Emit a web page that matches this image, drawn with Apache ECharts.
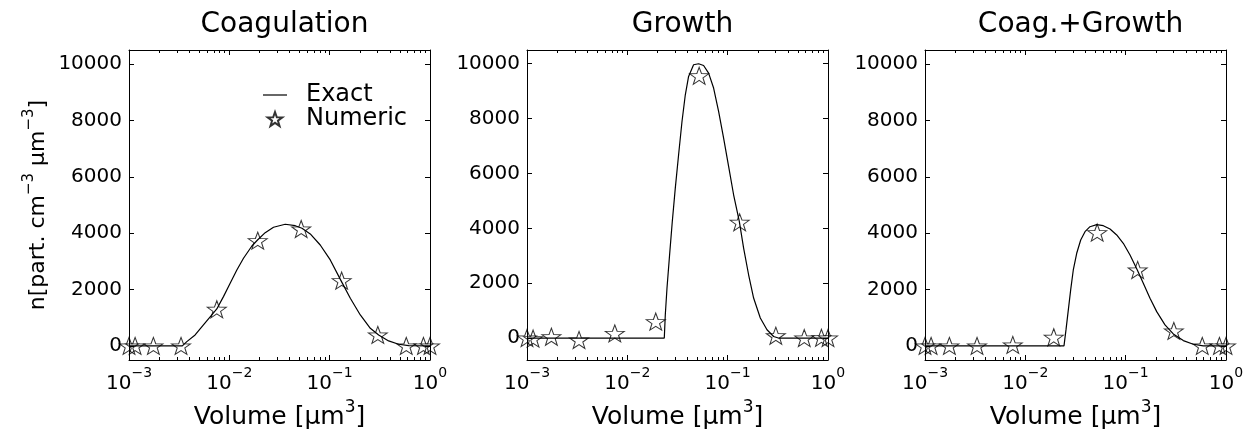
<!DOCTYPE html>
<html>
<head>
<meta charset="utf-8">
<script src="https://cdn.jsdelivr.net/npm/echarts@6.0.0/dist/echarts.min.js"></script>
<style>
  html, body { margin: 0; padding: 0; background: #fff; }
  #chart { width: 1258px; height: 437px; }
</style>
</head>
<body>
<div id="chart"></div>
<script>
// panel titles and axis ticks
const panelTitles = ['Coagulation', 'Growth', 'Coag.+Growth'];
const yTicks = [0, 2000, 4000, 6000, 8000, 10000];
const yMins = [-500, -800, -500];
const yMax = 10500;
const xDecades = [0.001, 0.01, 0.1, 1];

// numeric (star) points, same volumes in all panels
const numericX = [0.001, 0.00115, 0.00175, 0.0033, 0.0075, 0.0192, 0.052, 0.1317, 0.302, 0.58, 0.86, 1.0];
const coagNumeric = [0, 0, 0, 0, 1300, 3735, 4149, 2317, 390, 0, 0, 0];
const growthNumeric = [0, -20, 50, -70, 170, 600, 9560, 4220, 85, 0, 10, 0];
const bothNumeric = [0, 0, 0, 0, 35, 307, 4020, 2695, 532, 0, 0, 0];

// exact solutions
const coagExactX = [0.001, 0.0034, 0.00377, 0.00456, 0.00552, 0.00669, 0.0075, 0.00874, 0.01019, 0.01188,
  0.01384, 0.01678, 0.0191, 0.02277, 0.02756, 0.03605, 0.04538, 0.05297, 0.06405, 0.08054,
  0.1014, 0.1297, 0.1606, 0.202, 0.2542, 0.3077, 0.387, 0.487, 0.613, 1.0];
const coagExactY = [0, 0, 153, 390, 745, 1099, 1312, 1749, 2223, 2695,
  3110, 3546, 3759, 4018, 4209, 4316, 4266, 4173, 3972, 3581,
  3050, 2317, 1690, 1099, 626, 390, 177, 59, 12, 0];

const growthExactX = [0.001, 0.02335, 0.0239, 0.02485, 0.02638, 0.02806, 0.03006, 0.03243, 0.03506, 0.03783,
  0.04079, 0.04575, 0.05133, 0.05756, 0.06457, 0.07243, 0.08122, 0.0911, 0.1022, 0.1146,
  0.1306, 0.1442, 0.1617, 0.1814, 0.2115, 0.2466, 0.287, 0.32, 1.0];
const growthExactY = [0, 0, 849, 1822, 3036, 4250, 5467, 6681, 7895, 8868,
  9535, 9962, 10000, 9936, 9659, 9113, 8260, 7290, 6255, 5223,
  4250, 3280, 2307, 1458, 729, 303, 58, 0, 0];

const bothExactX = [0.001, 0.02428, 0.02542, 0.02682, 0.02831, 0.03006, 0.03251, 0.03563, 0.03933, 0.0441,
  0.05143, 0.05987, 0.06982, 0.08138, 0.0947, 0.1105, 0.1306, 0.1499, 0.1748, 0.2039,
  0.2466, 0.2984, 0.3754, 0.4721, 0.594, 1.0];
const bothExactY = [0, 0, 567, 1277, 1986, 2695, 3287, 3759, 4053, 4230,
  4301, 4266, 4149, 3936, 3642, 3227, 2695, 2223, 1691, 1216,
  745, 425, 188, 60, 0, 0];

const exactX = [coagExactX, growthExactX, bothExactX];
const exactY = [coagExactY, growthExactY, bothExactY];
const numericY = [coagNumeric, growthNumeric, bothNumeric];

const FONT = 'DejaVu Sans';
const gridLefts = [129, 527, 925];
const gridWidth = 301;

const zip = (xs, ys) => xs.map((x, i) => [x, ys[i]]);

// minor log ticks 2..9 in each decade
const xMinor = [];
for (let d = 0; d < xDecades.length - 1; d++) {
  for (let k = 2; k <= 9; k++) xMinor.push(+(xDecades[d] * k).toPrecision(3));
}

function starPath(inner) {
  const pts = [];
  for (let i = 0; i < 10; i++) {
    const r = i % 2 ? inner : 1;
    const a = Math.PI * (i / 5 - 0.5);
    pts.push((r * Math.cos(a)).toFixed(3) + ',' + (r * Math.sin(a)).toFixed(3));
  }
  return 'path://M' + pts.join(' L') + ' Z';
}
const STAR = starPath(0.4);
const LINE_ICON = 'path://M0,0 L24,0 L24,1.2 L0,1.2 Z';

const supStyle = (size, lift) => ({
  fontFamily: FONT, fontSize: size, color: '#000', verticalAlign: 'top', padding: [0, 0, lift, 0]
});

const grids = [], xAxes = [], yAxes = [], series = [], titles = [];

gridLefts.forEach((left, g) => {
  grids.push({ left: left, top: 50, width: gridWidth, height: 310 });
  titles.push({
    text: panelTitles[g],
    left: left + gridWidth / 2,
    top: 6,
    textAlign: 'center',
    textStyle: { fontFamily: FONT, fontSize: 28, fontWeight: 'normal', color: '#000' }
  });

  const baseX = {
    type: 'log', logBase: 10, gridIndex: g, min: 0.001, max: 1,
    axisLine: { show: false, onZero: false },
    splitLine: { show: false },
    axisLabel: { show: false },
    axisTick: { show: true, inside: true, length: 5, lineStyle: { color: '#000' }, customValues: xDecades }
  };
  xAxes.push(Object.assign({}, baseX, {
    position: 'bottom',
    axisLine: { show: true, onZero: false, lineStyle: { color: '#000', width: 1 } },
    axisLabel: {
      show: true, margin: 6, customValues: xDecades,
      formatter: v => '{b|10}{s|' + String(Math.round(Math.log10(v))).replace('-', '\u2212') + '}',
      rich: {
        b: { fontFamily: FONT, fontSize: 20, color: '#000', verticalAlign: 'bottom' },
        s: supStyle(14, 14)
      }
    },
    name: '{b|Volume [\u03bcm}{s|3}{b|]}',
    nameLocation: 'middle',
    nameGap: 34,
    nameTextStyle: {
      rich: {
        b: { fontFamily: FONT, fontSize: 25, color: '#000', verticalAlign: 'bottom' },
        s: supStyle(17, 14)
      }
    }
  }));
  xAxes.push(Object.assign({}, baseX, {
    position: 'top',
    axisLine: { show: true, onZero: false, lineStyle: { color: '#000', width: 1 } }
  }));
  xAxes.push(Object.assign({}, baseX, {
    position: 'bottom',
    axisTick: { show: true, inside: true, length: 3, lineStyle: { color: '#000' }, customValues: xMinor }
  }));
  xAxes.push(Object.assign({}, baseX, {
    position: 'top',
    axisTick: { show: true, inside: true, length: 3, lineStyle: { color: '#000' }, customValues: xMinor }
  }));

  const baseY = {
    type: 'value', gridIndex: g, min: yMins[g], max: yMax,
    axisLine: { show: true, onZero: false, lineStyle: { color: '#000', width: 1 } },
    splitLine: { show: false },
    axisTick: { show: true, inside: true, length: 5, lineStyle: { color: '#000' }, customValues: yTicks }
  };
  const leftY = Object.assign({}, baseY, {
    position: 'left',
    axisLabel: {
      show: true, margin: 7, customValues: yTicks,
      formatter: v => String(v),
      fontFamily: FONT, fontSize: 20, color: '#000'
    }
  });
  if (g === 0) {
    Object.assign(leftY, {
      name: '{b|n[part. cm}{s|\u22123}{b| \u03bcm}{s|\u22123}{b|]}',
      nameLocation: 'middle',
      nameGap: 80,
      nameTextStyle: {
        rich: {
          b: { fontFamily: FONT, fontSize: 22, color: '#000', verticalAlign: 'bottom' },
          s: supStyle(15, 12)
        }
      }
    });
  }
  yAxes.push(leftY);
  yAxes.push(Object.assign({}, baseY, { position: 'right', axisLabel: { show: false } }));

  series.push({
    name: 'Exact',
    type: 'line',
    xAxisIndex: 4 * g,
    yAxisIndex: 2 * g,
    data: zip(exactX[g], exactY[g]),
    symbol: 'none',
    smooth: false,
    lineStyle: { color: '#000', width: 1.2 },
    itemStyle: { color: '#000' },
    silent: true
  });
  series.push({
    name: 'Numeric',
    type: 'scatter',
    xAxisIndex: 4 * g,
    yAxisIndex: 2 * g,
    data: zip(numericX, numericY[g]),
    symbol: STAR,
    symbolSize: [19, 17],
    clip: false,
    itemStyle: { color: 'rgba(255,255,255,0)', borderColor: '#000', borderWidth: 1 },
    z: 3,
    silent: true
  });
});

const chart = echarts.init(document.getElementById('chart'));
chart.setOption({
  animation: false,
  backgroundColor: '#fff',
  title: titles,
  grid: grids,
  xAxis: xAxes,
  yAxis: yAxes,
  legend: {
    left: 258,
    top: 78,
    orient: 'vertical',
    itemWidth: 24,
    itemHeight: 14,
    itemGap: 0,
    symbolKeepAspect: true,
    textStyle: { fontFamily: FONT, fontSize: 24, color: '#000', padding: [0, 0, 0, 14] },
    data: [
      { name: 'Exact', icon: LINE_ICON, itemStyle: { color: '#000' } },
      { name: 'Numeric', icon: STAR }
    ]
  },
  series: series
});
</script>
</body>
</html>
